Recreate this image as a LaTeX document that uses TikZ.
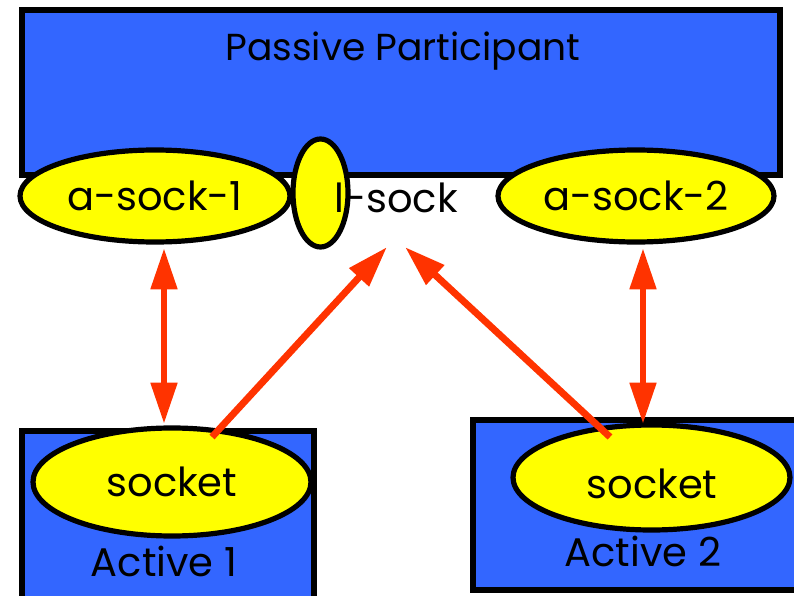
\documentclass[tikz,border=0pt]{standalone}
\usepackage{fontspec}
\setmainfont{Poppins}
\usetikzlibrary{arrows.meta,shapes.geometric}
\definecolor{pblue}{HTML}{3366FF}
\definecolor{pyellow}{HTML}{FFFF00}
\definecolor{porange}{HTML}{FF3300}
\tikzset{
  box/.style={draw=black, fill=pblue, line width=3.9pt, rectangle, inner sep=0pt},
  sockell/.style={draw=black, fill=pyellow, line width=3.9pt, ellipse, inner sep=0pt},
  lbl/.style={font=\fontsize{30}{33}\selectfont, inner sep=0pt},
  link/.style={draw=porange, line width=5.2pt, -{Triangle[length=31pt,width=19pt]}},
  dlink/.style={draw=porange, line width=5.2pt, {Triangle[length=31pt,width=19pt]}-{Triangle[length=31pt,width=19pt]}}
}
\begin{document}
\begin{tikzpicture}[x=0.75pt,y=-0.75pt]
\useasboundingbox (0,0) rectangle (794,596);
\clip (0,0) rectangle (794,596);
% passive participant
\node[box, minimum width=758*0.75pt, minimum height=165*0.75pt] (pp) at (401,92.5) {};
\node[lbl, font=\fontsize{28.2}{31}\selectfont] (ppt) at (403,51) {Passive Participant};
\node[sockell, minimum width=270*0.75pt, minimum height=92*0.75pt] (as1) at (155,196) {};
\node[lbl] at (as1) {a-sock-1};
\node[sockell, minimum width=276*0.75pt, minimum height=92*0.75pt] (as2) at (636,196) {};
\node[lbl] at (as2) {a-sock-2};
\node[sockell, minimum width=55*0.75pt, minimum height=108*0.75pt] (ls) at (320.5,193) {};
\node[lbl] (lst) at (396,198) {l-sock};
% active 1
\node[box, minimum width=292*0.75pt, minimum height=180*0.75pt] (a1) at (168,521) {};
\node[sockell, minimum width=278*0.75pt, minimum height=108*0.75pt] (s1) at (172,482) {};
\node[lbl] at (s1) {socket};
\node[lbl] (a1t) at (164,561) {Active 1};
% active 2
\node[box, minimum width=330*0.75pt, minimum height=170*0.75pt] (a2) at (638,505) {};
\node[sockell, minimum width=277*0.75pt, minimum height=105*0.75pt] (s2) at (651.5,477.5) {};
\node[lbl] at (652,484) {socket};
\node[lbl] (a2t) at (643,551) {Active 2};
% connectors
\coordinate (d1a) at (164,248);
\coordinate (d1b) at (164,424);
\coordinate (d2a) at (643,248);
\coordinate (d2b) at (643,424);
\coordinate (t1) at (387,247);
\coordinate (t2) at (405,247);
\coordinate (f1) at (212,437);
\coordinate (f2) at (610,437);
\draw[dlink] (d1a) -- (d1b);
\draw[dlink] (d2a) -- (d2b);
\draw[link] (f1) -- (t1);
\draw[link] (f2) -- (t2);
\end{tikzpicture}
\end{document}
